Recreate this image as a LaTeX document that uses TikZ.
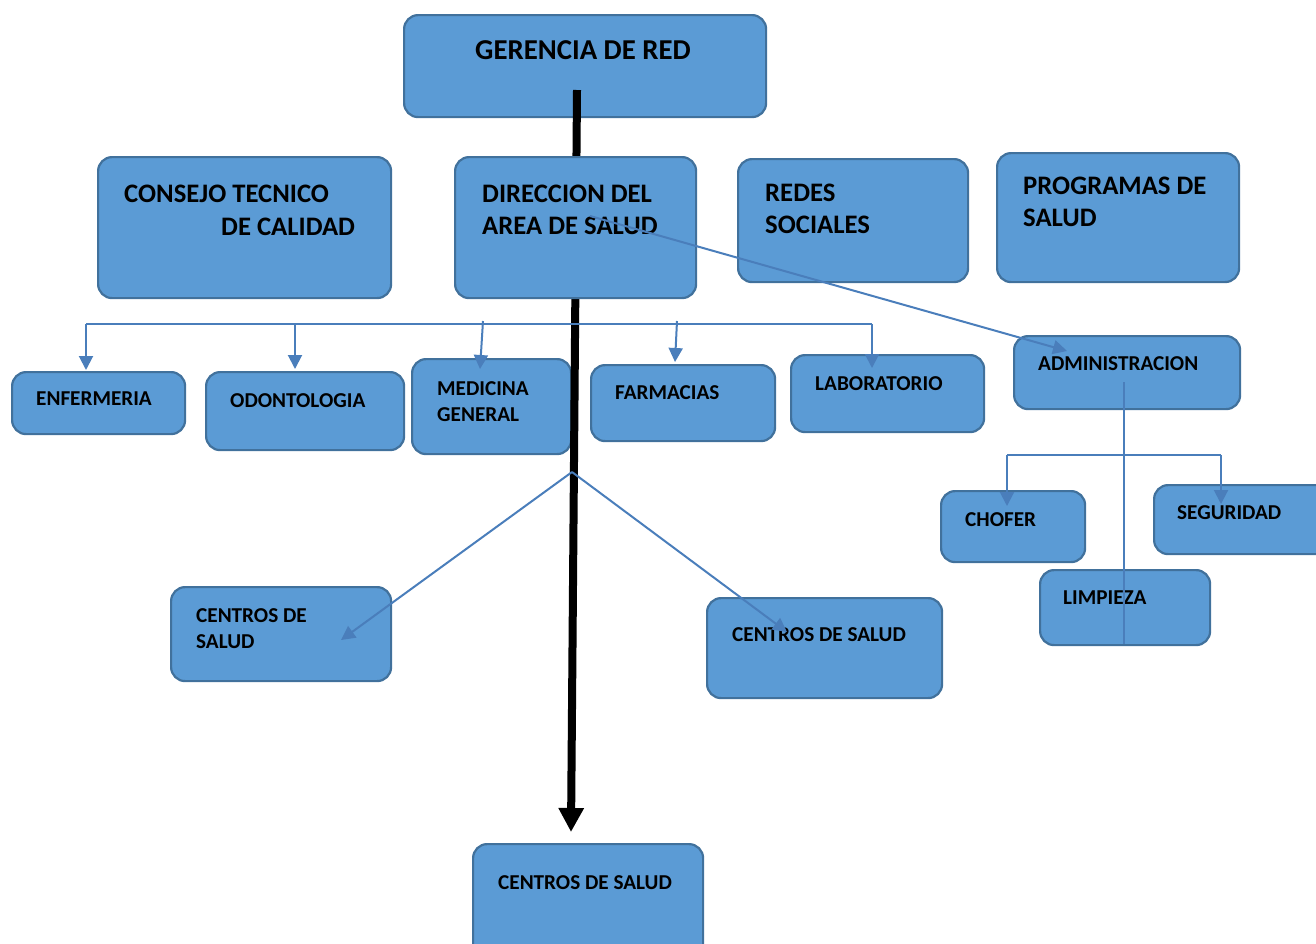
\documentclass[tikz,border=0pt]{standalone}
\usepackage{fontspec}
\setmainfont{Carlito}
\usetikzlibrary{arrows.meta}
\definecolor{boxfill}{HTML}{5B9BD5}
\definecolor{boxline}{HTML}{41719C}
\definecolor{connc}{HTML}{4A7EBB}
\newcommand\mybox[5]{\node[box, anchor=north west, minimum width={(#4)-(#2)}, minimum height={(#5)-(#3)}] (#1) at (#2,#3) {};}
\begin{document}
\begin{tikzpicture}[x=1pt,y=-1pt,
 box/.style={draw=boxline, line width=2.2pt, fill=boxfill, rounded corners=14pt, inner sep=0pt},
 big/.style={anchor=north west, inner sep=0pt, font=\bfseries\fontsize{26.7}{32}\selectfont, align=left},
 small/.style={anchor=north west, inner sep=0pt, font=\bfseries\fontsize{21.2}{26}\selectfont, align=left},
 conn/.style={draw=connc, line width=2pt},
 arr/.style={conn, -{Triangle[length=14pt,width=14pt]}},
]
\useasboundingbox (0,0) rectangle (1316,943);
% connector points
\coordinate (k1) at (577,90);
\coordinate (k2) at (571,832);
\coordinate (h1) at (86,324);
\coordinate (h2) at (872,324);
\coordinate (h3) at (295,324);
\coordinate (h4) at (483,321);
\coordinate (h5) at (677,321);
\coordinate (a1) at (86,370);
\coordinate (a2) at (295,369);
\coordinate (a3) at (480,369);
\coordinate (a4) at (675,362);
\coordinate (a5) at (872,368);
\coordinate (d1) at (590,216);
\coordinate (d2) at (1067,351);
\coordinate (v1) at (1124,382);
\coordinate (v2) at (1124,644);
\coordinate (b1) at (1007,455);
\coordinate (b2) at (1221,455);
\coordinate (b3) at (1007,506);
\coordinate (b4) at (1221,504);
\coordinate (p0) at (572,472);
\coordinate (p1) at (341,640);
\coordinate (p2) at (787,632);
% boxes
\mybox{ger}{403}{14}{765}{116}
\mybox{con}{97}{156}{390}{297}
\mybox{red}{737}{158}{967}{281}
\mybox{pro}{996}{152}{1238}{281}
\mybox{enf}{11}{371}{184}{433}
\mybox{odo}{205}{371}{403}{449}
\mybox{med}{411}{358}{570}{453}
\mybox{far}{590}{364}{774}{440}
\mybox{lab}{790}{354}{983}{431}
\mybox{adm}{1013}{335}{1239}{408}
\mybox{cho}{940}{490}{1084}{561}
\mybox{seg}{1153}{484}{1330}{553}
\mybox{lim}{1039}{569}{1209}{644}
\mybox{cl}{170}{586}{390}{680}
\mybox{cr}{706}{597}{941}{697}
\mybox{cb}{472}{843}{702}{960}
\node[big, font=\bfseries\fontsize{28.8}{32}\selectfont] (tger) at (475,40) {GERENCIA DE RED};
% main thick arrow (passes behind the DIRECCION box)
\draw[line width=8pt, -{Triangle[length=24pt,width=24pt]}] (k1) -- (k2);
\mybox{dir}{454}{156}{695}{297}
% texts
\node[big] (tcon1) at (124,185) {CONSEJO TECNICO};
\node[big] (tcon2) at (221,218) {DE CALIDAD};
\node[big] (tdir) at (482,185) {DIRECCION DEL\\AREA DE SALUD};
\node[big] (tred) at (765,184) {REDES\\SOCIALES};
\node[big] (tpro) at (1023,177) {PROGRAMAS DE\\SALUD};
\node[small] (tenf) at (36,392) {ENFERMERIA};
\node[small] (todo) at (230,393) {ODONTOLOGIA};
\node[small] (tmed) at (437,381) {MEDICINA\\GENERAL};
\node[small] (tfar) at (615,385) {FARMACIAS};
\node[small] (tlab) at (815,376) {LABORATORIO};
\node[small] (tadm) at (1038,356) {ADMINISTRACION};
\node[small] (tcho) at (965,512) {CHOFER};
\node[small] (tseg) at (1177,505) {SEGURIDAD};
\node[small] (tlim) at (1063,591) {LIMPIEZA};
\node[small] (tcl) at (196,608) {CENTROS DE\\SALUD};
\node[small] (tcr) at (732,627) {CENTROS DE SALUD};
\node[small] (tcb) at (498,875) {CENTROS DE SALUD};
% connectors
\draw[conn] (h1) -- (h2);
\draw[arr] (h1) -- (a1);
\draw[arr] (h3) -- (a2);
\draw[arr] (h4) -- (a3);
\draw[arr] (h5) -- (a4);
\draw[arr] (h2) -- (a5);
\draw[arr] (d1) -- (d2);
\draw[conn] (v1) -- (v2);
\draw[conn] (b1) -- (b2);
\draw[arr] (b1) -- (b3);
\draw[arr] (b2) -- (b4);
\draw[arr] (p0) -- (p1);
\draw[arr] (p0) -- (p2);
\end{tikzpicture}
\end{document}
